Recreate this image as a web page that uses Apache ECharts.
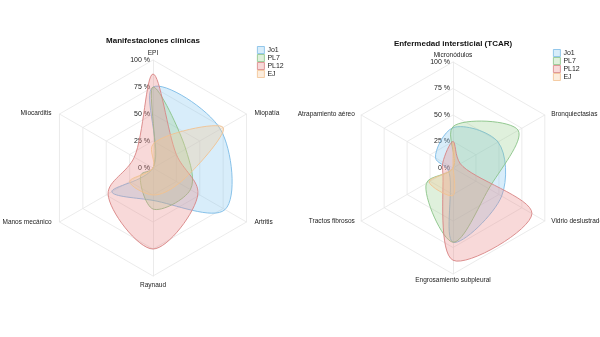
<!DOCTYPE html>
<html>
<head>
<meta charset="utf-8">
<script src="https://cdn.jsdelivr.net/npm/echarts@6/dist/echarts.min.js"></script>
<style>
  html, body { margin: 0; padding: 0; background: #fff; }
  #chart { width: 600px; height: 337px; }
</style>
</head>
<body>
<div id="chart"></div>
<script>
// groups and tick labels
const groups = ['Jo1', 'PL7', 'PL12', 'EJ'];
const tickLabels = ['0 %', '25 %', '50 %', '75 %', '100 %'];

// left chart, axes listed clockwise from the top
const clinicalAxes = ['EPI', 'Miopatía', 'Artritis', 'Raynaud', 'Manos mecánico', 'Miocarditis'];
const clinicalJo1 = [75, 72, 77, 30, 44, 0];
const clinicalPL7 = [75, 35, 40, 38, 13, 0];
const clinicalPL12 = [87, 25, 48, 75, 48, 20];
const clinicalEJ = [22, 75, 28, 25, 25, 0];

// right chart
const tcarAxes = ['Micronódulos', 'Bronquiectasias', 'Vidrio deslustrado', 'Engrosamiento subpleural', 'Tractos fibrosos', 'Atrapamiento aéreo'];
const tcarJo1 = [38, 49, 53, 70, 5, 19];
const tcarPL7 = [39, 71, 39, 70, 29, 0];
const tcarPL12 = [25, 8, 86, 87, 11, 11];
const tcarEJ = [24, 0, 0, 26, 26, 0];

const strokes = ['#7cbbe6', '#89c387', '#d88383', '#f2c290'];
const fills = ['rgba(135,198,240,0.32)', 'rgba(150,205,140,0.30)', 'rgba(232,138,138,0.32)', 'rgba(246,200,150,0.32)'];
const FONT = '"Liberation Sans", Arial, sans-serif';

const chart = echarts.init(document.getElementById('chart'));

// closed centripetal catmull-rom path through the points
const smoothPath = pts => {
  const n = pts.length;
  const tangent = (prev, cur, next) => {
    const d1x = prev[0] - cur[0], d1y = prev[1] - cur[1];
    const d2x = next[0] - cur[0], d2y = next[1] - cur[1];
    const d1a = Math.pow(d1x * d1x + d1y * d1y, 0.25);
    const d2a = Math.pow(d2x * d2x + d2y * d2y, 0.25);
    const numx = d2a * d2a * d1x - d1a * d1a * d2x;
    const numy = d2a * d2a * d1y - d1a * d1a * d2y;
    const den1 = 3 * d2a * (d1a + d2a);
    const den2 = 3 * d1a * (d1a + d2a);
    return [
      [cur[0] + (den1 ? numx / den1 : 0), cur[1] + (den1 ? numy / den1 : 0)],
      [cur[0] - (den2 ? numx / den2 : 0), cur[1] - (den2 ? numy / den2 : 0)]
    ];
  };
  const t = pts.map((p, i) => tangent(pts[(i - 1 + n) % n], p, pts[(i + 1) % n]));
  let d = 'M' + pts[0][0] + ',' + pts[0][1];
  for (let i = 1; i <= n; i++) {
    const a = t[i - 1][1], b = t[i % n][0], p = pts[i % n];
    d += 'C' + a[0] + ',' + a[1] + ' ' + b[0] + ',' + b[1] + ' ' + p[0] + ',' + p[1];
  }
  return d + 'Z';
};

const makeSeries = (values, gi, polarIndex) => ({
  type: 'custom',
  name: groups[gi],
  coordinateSystem: 'polar',
  polarIndex,
  encode: { radius: 0, angle: 1 },
  data: values.map((v, i) => [v, i * 360 / values.length]),
  itemStyle: { color: fills[gi], borderColor: strokes[gi] },
  renderItem(params, api) {
    if (params.dataIndex !== 0) return null;
    const pts = [];
    for (let i = 0; i < params.dataInsideLength; i++) {
      pts.push(api.coord([api.value(0, i), api.value(1, i)]));
    }
    return {
      type: 'path',
      shape: { pathData: smoothPath(pts) },
      style: { fill: fills[gi], stroke: strokes[gi], lineWidth: 0.9 }
    };
  }
});

// radar draws counterclockwise, so feed it the axes reversed after the first
const radarIndicators = (axes, sidePad, bottomPad) =>
  [axes[0]].concat(axes.slice(1).reverse()).map((name, i) => {
    let pad = [0, 0, 0, 0];
    if (i === 1 || i === 2) pad = [0, sidePad, 0, 0];
    if (i === 3) pad = [bottomPad, 0, 0, 0];
    if (i === 4 || i === 5) pad = [0, 0, 0, sidePad];
    return {
      name,
      min: 0,
      max: 100,
      nameTextStyle: { padding: pad },
      axisLabel: i === 0 ? {
        show: true,
        fontSize: 7,
        fontFamily: FONT,
        color: '#222',
        margin: 3,
        formatter: v => tickLabels[Math.round(v / 25)]
      } : { show: false }
    };
  });

const radarBase = {
  shape: 'polygon',
  splitNumber: 4,
  startAngle: 90,
  nameGap: 1,
  axisName: { color: '#222', fontSize: 6.5, fontFamily: FONT },
  axisLine: { lineStyle: { color: '#e6e6e6', width: 0.8 } },
  splitLine: { lineStyle: { color: '#e6e6e6', width: 0.8 } },
  splitArea: { show: false },
  axisLabel: { show: false }
};

const legendBase = {
  orient: 'vertical',
  icon: 'rect',
  itemWidth: 7,
  itemHeight: 7,
  itemGap: 0,
  padding: 0,
  textStyle: { fontSize: 7, lineHeight: 8, color: '#222', fontFamily: FONT, padding: [0, 0, 0, -2] },
  data: groups.map((g, i) => ({ name: g, itemStyle: { color: fills[i], borderColor: strokes[i], borderWidth: 0.8 } }))
};

const titleStyle = { fontSize: 8, fontWeight: 'bold', color: '#111', fontFamily: FONT };

chart.setOption({
  backgroundColor: '#fff',
  animation: false,
  title: [
    { text: 'Manifestaciones clínicas', left: 153, top: 37, textAlign: 'center', padding: 0, textStyle: titleStyle },
    { text: 'Enfermedad intersticial (TCAR)', left: 453, top: 40, textAlign: 'center', padding: 0, textStyle: titleStyle }
  ],
  legend: [
    Object.assign({}, legendBase, { left: 257, top: 46 }),
    Object.assign({}, legendBase, { left: 553, top: 49 })
  ],
  radar: [
    Object.assign({}, radarBase, { center: [153, 168], radius: 108, indicator: radarIndicators(clinicalAxes, 7, 5) }),
    Object.assign({}, radarBase, { center: [453, 168], radius: 106, indicator: radarIndicators(tcarAxes, 5.5, 2) })
  ],
  polar: [
    { center: [153, 168], radius: 108 },
    { center: [453, 168], radius: 106 }
  ],
  angleAxis: [
    { polarIndex: 0, type: 'value', min: 0, max: 360, startAngle: 90, clockwise: true, show: false },
    { polarIndex: 1, type: 'value', min: 0, max: 360, startAngle: 90, clockwise: true, show: false }
  ],
  radiusAxis: [
    { polarIndex: 0, type: 'value', min: 0, max: 100, show: false },
    { polarIndex: 1, type: 'value', min: 0, max: 100, show: false }
  ],
  series: [
    makeSeries(clinicalJo1, 0, 0),
    makeSeries(clinicalPL7, 1, 0),
    makeSeries(clinicalPL12, 2, 0),
    makeSeries(clinicalEJ, 3, 0),
    makeSeries(tcarJo1, 0, 1),
    makeSeries(tcarPL7, 1, 1),
    makeSeries(tcarPL12, 2, 1),
    makeSeries(tcarEJ, 3, 1)
  ]
});
</script>
</body>
</html>
